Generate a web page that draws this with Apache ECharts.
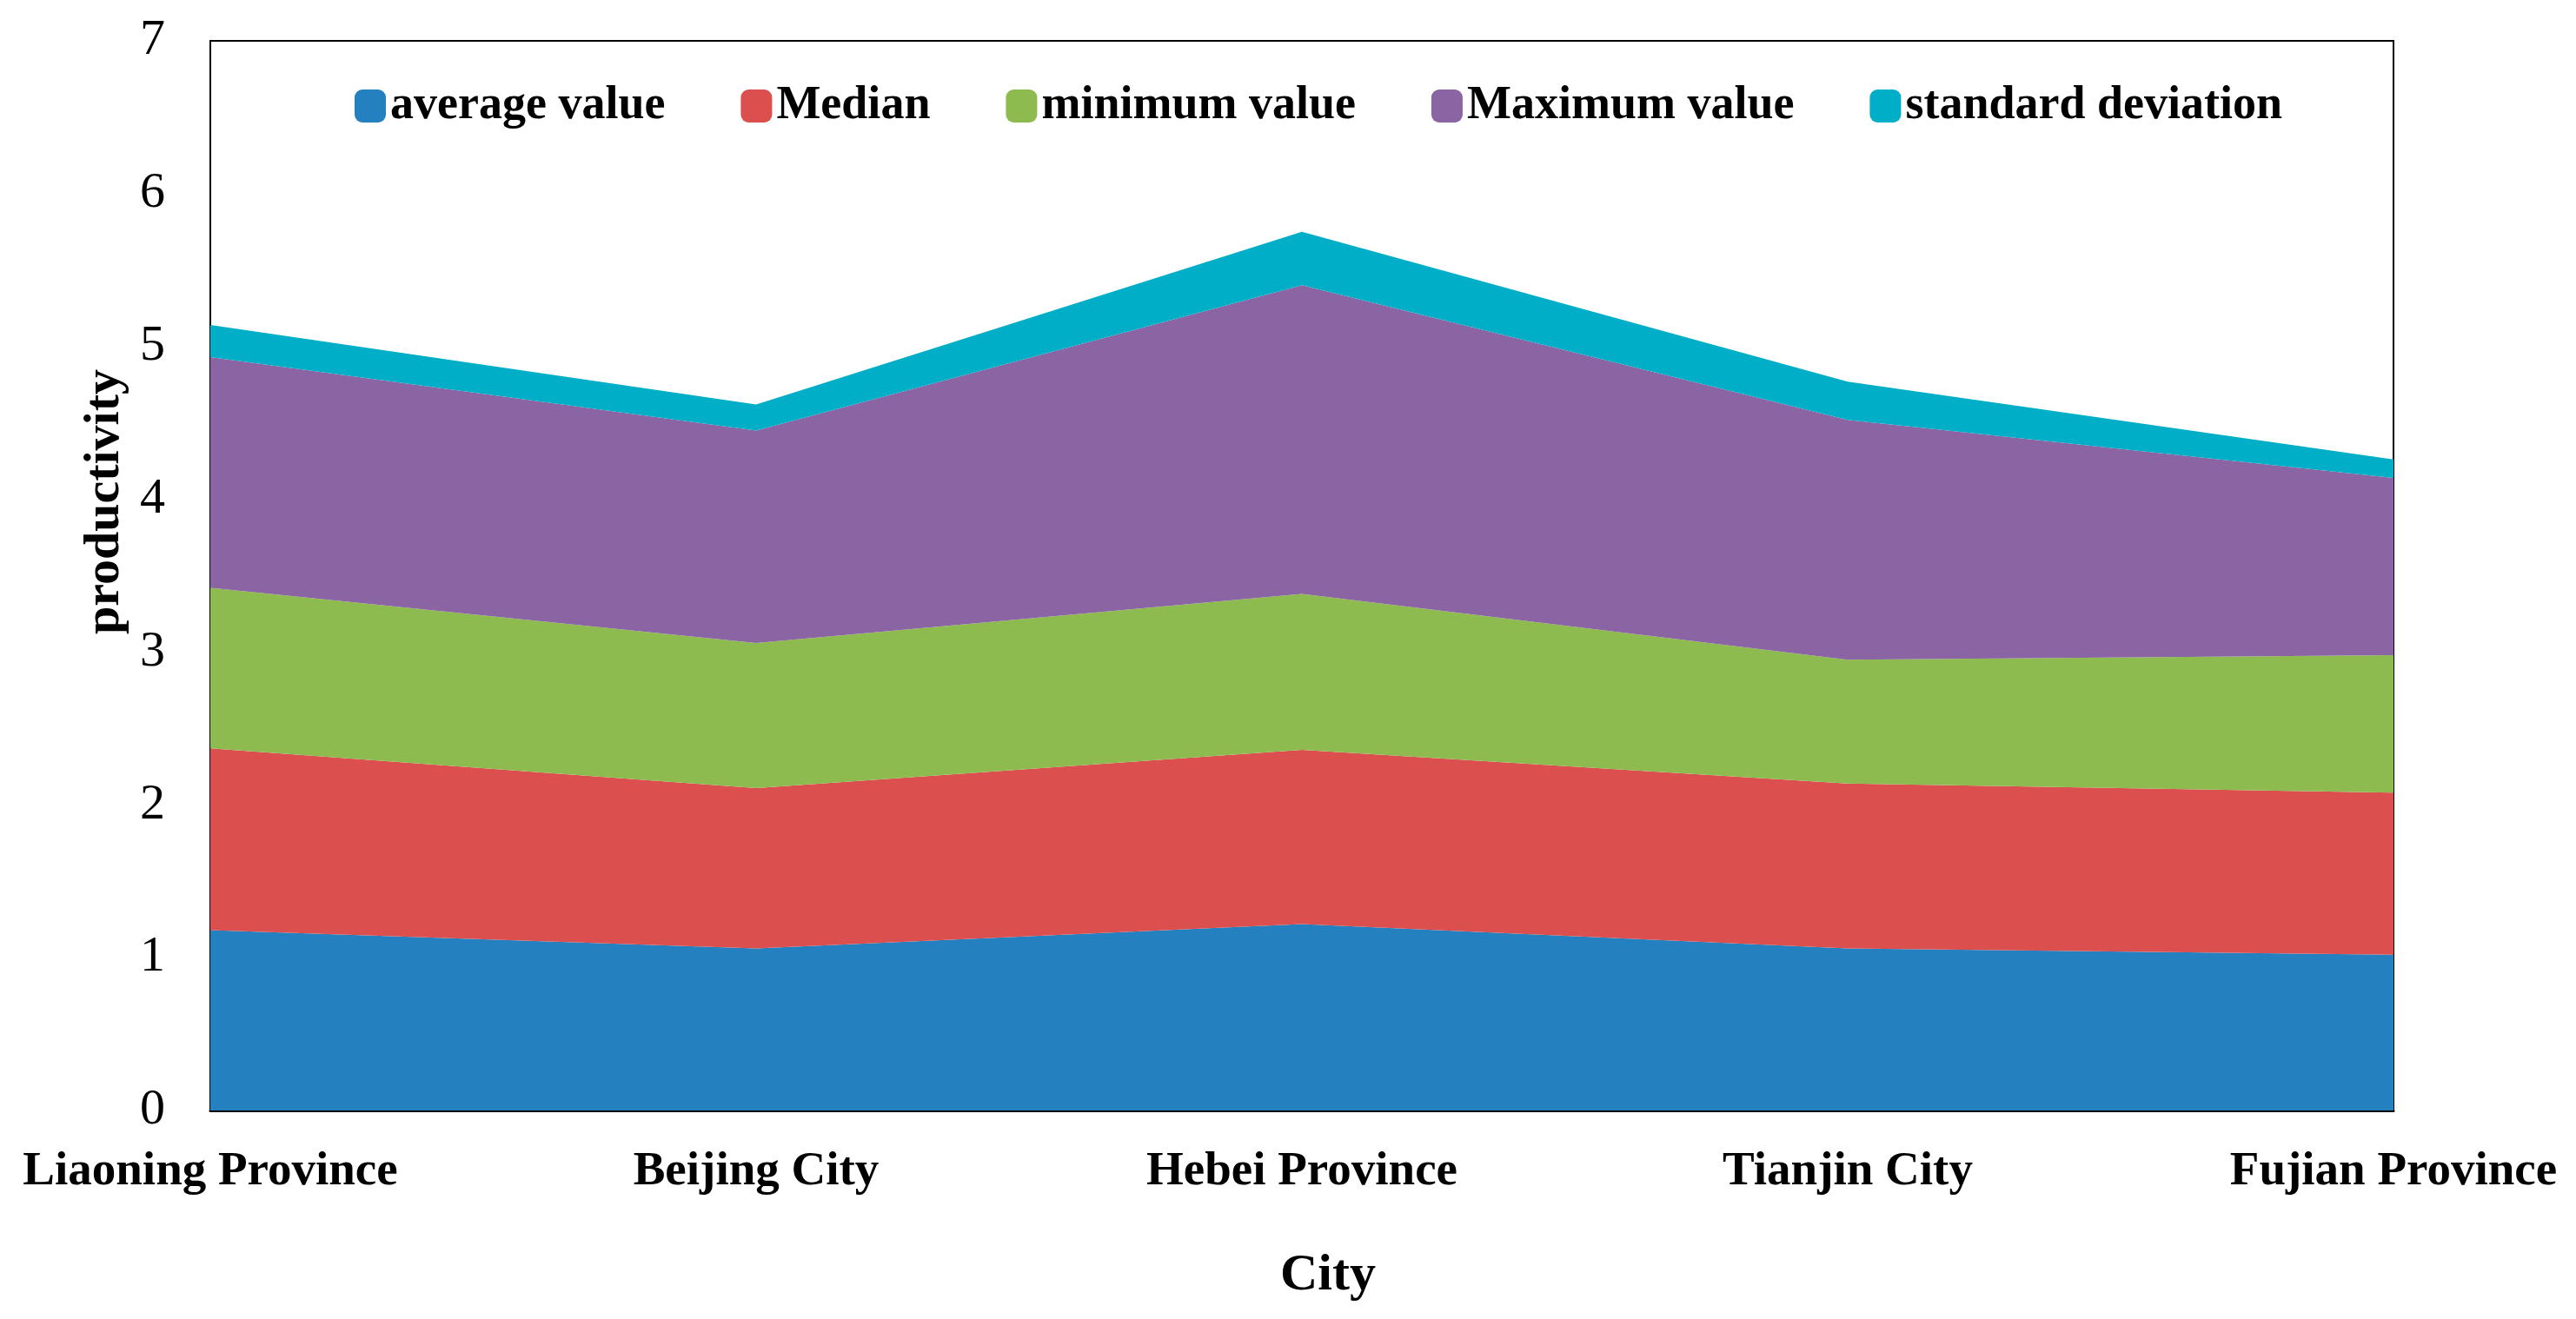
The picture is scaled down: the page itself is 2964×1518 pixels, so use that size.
<!DOCTYPE html>
<html>
<head>
<meta charset="utf-8">
<script src="https://cdn.jsdelivr.net/npm/echarts@6/dist/echarts.min.js"></script>
<style>
html,body{margin:0;padding:0;background:#fff;}
#main{width:2964px;height:1518px;}
</style>
</head>
<body>
<div id="main"></div>
<script>
var categories = ['Liaoning Province', 'Beijing City', 'Hebei Province', 'Tianjin City', 'Fujian Province'];
var seriesNames = ['average value', 'Median', 'minimum value', 'Maximum value', 'standard deviation'];
var averageValue = [1.18, 1.06, 1.22, 1.06, 1.02];
var medianValue = [1.19, 1.05, 1.14, 1.08, 1.06];
var minimumValue = [1.05, 0.95, 1.02, 0.81, 0.90];
var maximumValue = [1.51, 1.39, 2.02, 1.57, 1.16];
var stdDeviation = [0.21, 0.17, 0.35, 0.25, 0.12];
var yTicks = [0, 1, 2, 3, 4, 5, 6, 7];

var colors = ['#2480BF', '#DC4F4F', '#8DBB50', '#8A64A3', '#00AEC7'];
var seriesData = [averageValue, medianValue, minimumValue, maximumValue, stdDeviation];
var FONT = '"Liberation Serif", "Times New Roman", serif';

var chart = echarts.init(document.getElementById('main'));
chart.setOption({
  animation: false,
  color: colors,
  grid: {
    left: 242, right: 210, top: 47, bottom: 240,
    show: true, borderColor: '#000', borderWidth: 2, backgroundColor: 'transparent'
  },
  legend: {
    top: 90,
    left: 403,
    itemWidth: 36,
    itemHeight: 38,
    itemGap: 87,
    icon: 'roundRect',
    data: seriesNames,
    textStyle: { fontFamily: FONT, fontWeight: 'bold', fontSize: 54, color: '#000' }
  },
  xAxis: {
    type: 'category',
    data: categories,
    boundaryGap: false,
    name: 'City',
    nameLocation: 'middle',
    nameGap: 160,
    nameTextStyle: { fontFamily: FONT, fontWeight: 'bold', fontSize: 60, color: '#000', padding: [0, 0, 0, 60] },
    axisLine: { show: true, lineStyle: { color: '#000', width: 3 } },
    axisTick: { show: false },
    axisLabel: { fontFamily: FONT, fontWeight: 'bold', fontSize: 55, color: '#000', margin: 43, interval: 0 },
    splitLine: { show: false }
  },
  yAxis: {
    type: 'value',
    min: 0, max: 7, interval: 1,
    name: 'productivity',
    nameLocation: 'middle',
    nameGap: 92,
    nameTextStyle: { fontFamily: FONT, fontWeight: 'bold', fontSize: 58, color: '#000', padding: [0, 0, 0, 170] },
    axisLine: { show: true, lineStyle: { color: '#000', width: 2 } },
    axisTick: { show: false },
    axisLabel: {
      fontFamily: FONT, fontSize: 58, color: '#000', margin: 52,
      formatter: function (v) { return yTicks.indexOf(v) >= 0 ? String(v) : ''; }
    },
    splitLine: { show: false }
  },
  series: seriesNames.map(function (name, i) {
    return {
      name: name,
      type: 'line',
      stack: 'total',
      data: seriesData[i],
      symbol: 'none',
      lineStyle: { width: 0 },
      areaStyle: { color: colors[i], opacity: 1 },
      itemStyle: { color: colors[i] },
      z: 2
    };
  })
});
</script>
</body>
</html>
